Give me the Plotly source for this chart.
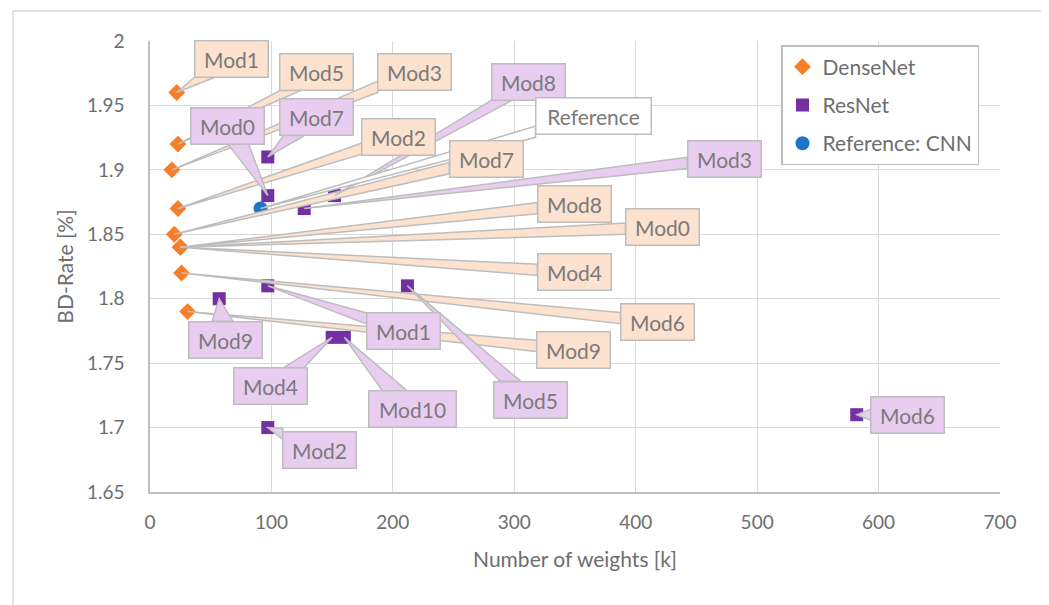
import plotly.graph_objects as go

# ---------------- data ----------------
dense_names = ["Mod1", "Mod5", "Mod3", "Mod2", "Mod7", "Mod8", "Mod0", "Mod4", "Mod6", "Mod9"]
dense_x = [22, 23, 18, 23, 20, 25, 25, 25, 26, 31]
dense_y = [1.96, 1.92, 1.90, 1.87, 1.85, 1.84, 1.84, 1.84, 1.82, 1.79]

res_names = ["Mod7", "Mod0", "Mod8", "Mod3", "Mod1", "Mod5", "Mod9", "Mod4", "Mod10", "Mod2", "Mod6"]
res_x = [97, 97, 152, 127, 97, 212, 57, 150, 160, 97, 582]
res_y = [1.91, 1.88, 1.88, 1.87, 1.81, 1.81, 1.80, 1.77, 1.77, 1.70, 1.71]

ref_names = ["Reference"]
ref_x = [91]
ref_y = [1.87]

x_ticks = [0, 100, 200, 300, 400, 500, 600, 700]
y_ticks = [1.65, 1.7, 1.75, 1.8, 1.85, 1.9, 1.95, 2.0]

# ---------------- layout / style ----------------
PAGE = 8  # default page body margin
W, H = 1049 - PAGE, 605 - PAGE
L, R, T, B = 150 - PAGE, 49, 41 - PAGE, 113
X_RANGE = [0, 700]
Y_RANGE = [1.65, 2.0]
PX_X = (W - L - R) / (X_RANGE[1] - X_RANGE[0])
PX_Y = (H - T - B) / (Y_RANGE[1] - Y_RANGE[0])

# callout box centre offsets from their point (pixels, +y downwards)
dense_off = [(55, -34), (139, -72), (243, -98), (221, -72), (312, -75),
             (394, -43), (482, -20), (394, 25), (476, 49), (386, 38)]
res_off = [(49, -40), (-40, -70), (194, -114), (420, -50), (136, 45),
           (123, 114), (6, 41), (-62, 49), (68, 72), (52, 22), (51, 0)]
ref_off = [(333, -93)]

ORANGE = "#F47E2A"
PURPLE = "#7330A3"
BLUE = "#1F74C8"
ORANGE_FILL = "#FCE2CF"
PURPLE_FILL = "#E8CDF0"
REF_FILL = "#FFFFFF"
EDGE = "#BDBDBD"
GRID = "#D9D9D9"
TXT = "#7A7A7A"
TICK_TXT = "#6E6E6E"
FONT = "Lato"

fig = go.Figure()
fig.add_trace(go.Scatter(x=dense_x, y=dense_y, mode="markers", name="DenseNet",
                         legendgroup="a",
                         marker=dict(symbol="diamond", size=13, color=ORANGE)))
fig.add_trace(go.Scatter(x=res_x, y=res_y, mode="markers", name="ResNet",
                         legendgroup="b",
                         marker=dict(symbol="square", size=13, color=PURPLE)))
fig.add_trace(go.Scatter(x=ref_x, y=ref_y, mode="markers", name="Reference: CNN",
                         legendgroup="c",
                         marker=dict(symbol="circle", size=14, color=BLUE)))

shapes = []
annotations = []


def box_width(text):
    return 72 if len(text) <= 4 else (86 if len(text) == 5 else 114)


BOX_H = 35


def add_callout(name, x, y, off, fill):
    ox, oy = off
    bw = box_width(name) / 2 + 1
    bh = BOX_H / 2 + 1
    dx, dy = -ox, -oy
    if abs(dx) * bh >= abs(dy) * bw and dx != 0:
        t = bw / abs(dx)
        ex, ey = ox + dx * t, oy + dy * t
        hw = 0.16 * BOX_H
        b1 = (ex, ey - hw)
        b2 = (ex, ey + hw)
    else:
        t = bh / abs(dy)
        ex, ey = ox + dx * t, oy + dy * t
        hw = 0.14 * 2 * bw
        cx = min(max(ex, ox - bw + hw), ox + bw - hw)
        b1 = (cx - hw, ey)
        b2 = (cx + hw, ey)

    def d(p):
        return x + p[0] / PX_X, y - p[1] / PX_Y

    p1 = d(b1)
    p2 = d(b2)
    path = f"M {p1[0]},{p1[1]} L {x},{y} L {p2[0]},{p2[1]} Z"
    shapes.append(dict(type="path", path=path, xref="x", yref="y",
                       fillcolor=fill, line=dict(color=EDGE, width=1.5),
                       layer="above"))
    annotations.append(dict(x=x, y=y, xref="x", yref="y", text=name,
                            showarrow=False, xshift=ox, yshift=-oy,
                            width=box_width(name), height=BOX_H,
                            bgcolor=fill, bordercolor=EDGE, borderwidth=1.5,
                            borderpad=0, align="center", valign="middle",
                            font=dict(family=FONT, size=21, color=TXT)))


for n, x, y, o in zip(dense_names, dense_x, dense_y, dense_off):
    add_callout(n, x, y, o, ORANGE_FILL)
for n, x, y, o in zip(res_names, res_x, res_y, res_off):
    add_callout(n, x, y, o, PURPLE_FILL)
for n, x, y, o in zip(ref_names, ref_x, ref_y, ref_off):
    add_callout(n, x, y, o, REF_FILL)

# chart-area border
PW, PH = (W - L - R), (H - T - B)
shapes.append(dict(type="rect", xref="paper", yref="paper",
                   x0=(13 - 150) / PW, x1=(1044 - 150) / PW,
                   y0=1 - (612 - 41) / PH, y1=1 + (41 - 11) / PH,
                   line=dict(color=GRID, width=1.5), fillcolor="rgba(0,0,0,0)",
                   layer="below"))

fig.update_layout(
    width=W, height=H,
    margin=dict(l=L, r=R, t=T, b=B),
    paper_bgcolor="white", plot_bgcolor="white",
    font=dict(family=FONT, color=TICK_TXT),
    showlegend=True,
    legend=dict(x=(781 - 150) / PW, y=1 - (45 - 41) / PH,
                xanchor="left", yanchor="top",
                bgcolor="white", bordercolor=EDGE, borderwidth=1.5,
                font=dict(family=FONT, size=21, color=TICK_TXT),
                traceorder="grouped", tracegroupgap=8,
                itemwidth=30),
    shapes=shapes,
    annotations=annotations,
)
fig.update_xaxes(range=X_RANGE, tickvals=x_ticks, ticktext=[str(v) for v in x_ticks],
                 showgrid=True, gridcolor=GRID, gridwidth=1.3,
                 showline=True, linecolor="#BFBFBF", linewidth=1.5,
                 zeroline=False, ticks="", ticklabelstandoff=12,
                 tickfont=dict(family=FONT, size=19, color=TICK_TXT),
                 title=dict(text="Number of weights [k]", standoff=21,
                            font=dict(family=FONT, size=21, color=TICK_TXT)))
fig.update_yaxes(range=Y_RANGE, tickvals=y_ticks,
                 ticktext=["1.65", "1.7", "1.75", "1.8", "1.85", "1.9", "1.95", "2"],
                 showgrid=True, gridcolor=GRID, gridwidth=1.3,
                 showline=True, linecolor="#BFBFBF", linewidth=1.5,
                 zeroline=False, ticks="", ticklabelstandoff=20,
                 tickfont=dict(family=FONT, size=19, color=TICK_TXT),
                 title=dict(text="BD-Rate [%]", standoff=8,
                            font=dict(family=FONT, size=21, color=TICK_TXT)))

fig.write_html("out.html")
